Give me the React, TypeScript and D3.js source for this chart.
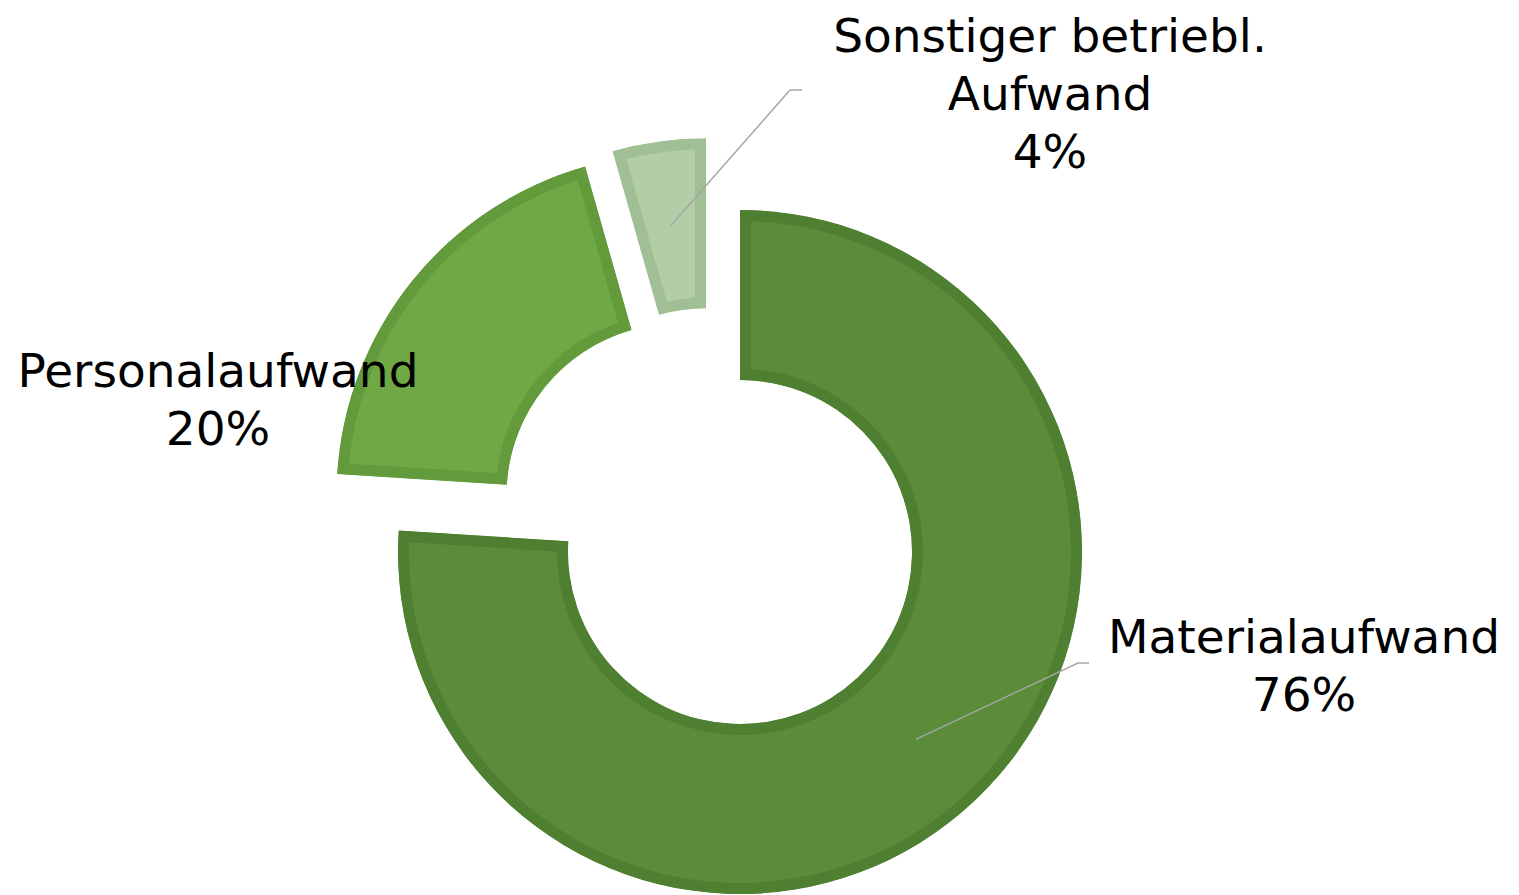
import React from "react";
import * as d3 from "d3";

const categories = ["Materialaufwand", "Personalaufwand", "Sonstiger betriebl. Aufwand"];
const values = [76.0, 19.6, 4.4];
const labelLines = [["Materialaufwand"], ["Personalaufwand"], ["Sonstiger betriebl.", "Aufwand"]];
const fills = ["#5a8c3a", "#70a846", "#b3cea6"];
const strokes = ["#4f7f31", "#639a3c", "#a1bf94"];

const W = 1519;
const H = 895;
const CX = 740;
const CY = 552;
const R_OUT = 342;
const R_IN = 172;
const STROKE = 11;
// explosion offsets per slice
const offsets: [number, number][] = [
  [0, 0],
  [-61.5, -56.5],
  [-34, -71.7],
];
// label placement (center x, first baseline y)
const labelPos: [number, number][] = [
  [1304, 653],
  [218, 387],
  [1050, 52],
];
const LINE_H = 58;

export default function App() {
  const total = d3.sum(values);
  const pie = d3
    .pie<number>()
    .sort(null)
    .value((d) => d)
    .startAngle(0)
    .endAngle(2 * Math.PI);
  const arcs = pie(values);
  const arc = d3.arc<d3.PieArcDatum<number>>().innerRadius(R_IN).outerRadius(R_OUT);

  return (
    <svg width={W} height={H} style={{ position: "absolute", left: 0, top: 0, background: "#fff" }}>
      <defs>
        {arcs.map((a, i) => (
          <clipPath id={`clip${i}`} key={i}>
            <path d={arc(a) || ""} />
          </clipPath>
        ))}
      </defs>
      {arcs.map((a, i) => (
        <g key={i} transform={`translate(${CX + offsets[i][0]},${CY + offsets[i][1]})`}>
          <path
            d={arc(a) || ""}
            fill={fills[i]}
            stroke={strokes[i]}
            strokeWidth={STROKE * 2}
            clipPath={`url(#clip${i})`}
          />
        </g>
      ))}
      {/* leader lines */}
      {arcs.map((a, i) => {
        if (i === 1) return null;
        const c = arc.centroid(a);
        const sx = CX + offsets[i][0] + c[0];
        const sy = CY + offsets[i][1] + c[1];
        const pts =
          i === 0
            ? [
                [sx, sy],
                [1078, 663],
                [1089, 663],
              ]
            : [
                [sx, sy],
                [790, 90],
                [802, 90],
              ];
        return (
          <polyline
            key={`l${i}`}
            points={pts.map((p) => p.join(",")).join(" ")}
            fill="none"
            stroke="#a6a6a6"
            strokeWidth={1.5}
          />
        );
      })}
      {/* labels */}
      {arcs.map((a, i) => {
        const lines = [...labelLines[i], `${Math.round((values[i] / total) * 100)}%`];
        return (
          <text
            key={`t${i}`}
            x={labelPos[i][0]}
            y={labelPos[i][1]}
            textAnchor="middle"
            fontFamily="'Century Gothic', 'DejaVu Sans', sans-serif"
            fontSize={47}
            fill="#000"
          >
            {lines.map((ln, j) => (
              <tspan key={j} x={labelPos[i][0]} y={labelPos[i][1] + j * LINE_H}>
                {ln}
              </tspan>
            ))}
          </text>
        );
      })}
    </svg>
  );
}
